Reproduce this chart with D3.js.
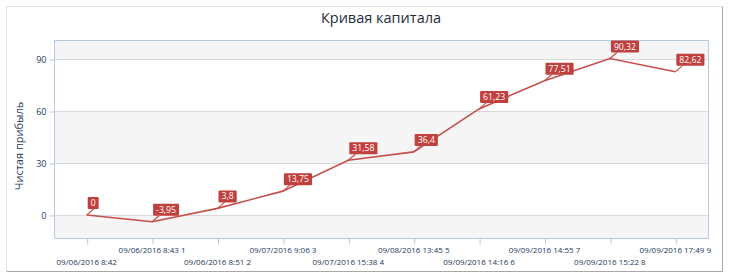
<!DOCTYPE html>
<html>
<head>
<meta charset="utf-8">
<script src="https://cdn.jsdelivr.net/npm/d3@7/dist/d3.min.js"></script>
<style>
  body { margin: 0; background: #fff; }
  svg { display: block; font-family: "Open Sans", sans-serif; }
</style>
</head>
<body>
<svg width="729" height="278"></svg>
<script>
const svg = d3.select("svg");

// данные
const dates = [
  "09/06/2016 8:42", "09/06/2016 8:43 1", "09/06/2016 8:51 2", "09/07/2016 9:06 3",
  "09/07/2016 15:38 4", "09/08/2016 13:45 5", "09/09/2016 14:16 6", "09/09/2016 14:55 7",
  "09/09/2016 15:22 8", "09/09/2016 17:49 9"
];
const profit = [0, -3.95, 3.8, 13.75, 31.58, 36.4, 61.23, 77.51, 90.32, 82.62];
const yTicks = [0, 30, 60, 90];
const bands = [[-13.3, 0], [30, 60], [90, 101]];

const plot = { left: 54, right: 708, top: 40, bottom: 238 };
const lineColor = "#c4504c";
const boxColor = "#c0403e";
const textColor = "#22385a";

// внешняя рамка
svg.append("rect").attr("x", 6.5).attr("y", 6.5).attr("width", 716).attr("height", 265)
  .attr("fill", "none").attr("stroke", "#e2e2e2");
svg.append("path").attr("d", "M722.5,6.5 V271.5 H6.5")
  .attr("fill", "none").attr("stroke", "#a8a8a8");

svg.append("text")
  .attr("x", 381).attr("y", 23)
  .attr("text-anchor", "middle")
  .attr("font-size", 14.5)
  .attr("fill", "#1f2d3d")
  .text("Кривая капитала");

const x = d3.scaleLinear().domain([-0.5, 9.5]).range([plot.left, plot.right]);
const y = d3.scaleLinear().domain([-13.3, 101]).range([plot.bottom, plot.top]);

const g = svg.append("g");

// полосы фона
g.selectAll(".band")
  .data(bands)
  .join("rect")
  .attr("x", plot.left).attr("width", plot.right - plot.left)
  .attr("y", d => y(d[1])).attr("height", d => y(d[0]) - y(d[1]))
  .attr("fill", "#f5f5f5");

// сетка
g.selectAll(".grid")
  .data(yTicks)
  .join("line")
  .attr("x1", plot.left).attr("x2", plot.right)
  .attr("y1", d => Math.round(y(d)) + 0.5).attr("y2", d => Math.round(y(d)) + 0.5)
  .attr("stroke", "#d9d9d9");

// рамка области графика
svg.append("path")
  .attr("d", `M${plot.left + 0.5},${plot.bottom + 0.5} V${plot.top + 0.5} H${plot.right + 0.5} V${plot.bottom + 0.5} H${plot.left + 0.5}`)
  .attr("fill", "none").attr("stroke", "#b7c9e2");

// ось Y
const yAxis = svg.append("g").attr("transform", `translate(${plot.left + 0.5},0.5)`);
yAxis.call(d3.axisLeft(y).tickValues(d3.range(-12, 101, 6)).tickSize(3).tickFormat(""));
yAxis.call(d3.axisLeft(y).tickValues(yTicks).tickSize(5).tickPadding(3));
yAxis.selectAll(".domain").remove();
yAxis.selectAll("line").attr("stroke", "#b7c9e2");
yAxis.selectAll("text").attr("font-size", 9).attr("fill", textColor)
  .attr("font-family", "Open Sans, sans-serif");

svg.append("text")
  .attr("transform", "translate(23,146) rotate(-90)")
  .attr("text-anchor", "middle")
  .attr("font-size", 11)
  .attr("fill", textColor)
  .text("Чистая прибыль");

// ось X
const xAxis = svg.append("g").attr("transform", `translate(0.5,${plot.bottom + 0.5})`);
xAxis.call(d3.axisBottom(x).tickValues(d3.range(-0.4, 9.5, 0.2).filter(v => Math.abs(v - Math.round(v)) > 0.01)).tickSize(3).tickFormat(""));
xAxis.call(d3.axisBottom(x).tickValues(d3.range(0, 10)).tickSize(6).tickFormat(""));
xAxis.selectAll(".domain").remove();
xAxis.selectAll("line").attr("stroke", "#b7c9e2");

svg.append("g").selectAll("text")
  .data(dates)
  .join("text")
  .attr("x", (d, i) => x(i))
  .attr("y", (d, i) => i % 2 ? 253 : 265)
  .attr("text-anchor", "middle")
  .attr("font-size", 8)
  .attr("fill", textColor)
  .text(d => d);

// линия
const line = d3.line().x((d, i) => x(i)).y(d => y(d));
svg.append("path")
  .datum(profit)
  .attr("d", line)
  .attr("fill", "none")
  .attr("stroke", lineColor)
  .attr("stroke-width", 1.6);

// подписи значений
const fmt = v => String(v).replace(".", ",");
const labels = svg.append("g").selectAll("g")
  .data(profit)
  .join("g")
  .attr("transform", (d, i) => `translate(${x(i)},${y(d)})`);

labels.append("line")
  .attr("x1", 0).attr("y1", 0).attr("x2", 7).attr("y2", -6)
  .attr("stroke", lineColor).attr("stroke-width", 1.2);

labels.each(function (d) {
  const sel = d3.select(this);
  const t = sel.append("text")
    .attr("x", 4).attr("y", -9)
    .attr("font-size", 8.7)
    .attr("fill", "#fff")
    .text(fmt(d));
  const w = t.node().getComputedTextLength();
  sel.insert("rect", "text")
    .attr("x", 1).attr("y", -18)
    .attr("width", w + 6).attr("height", 12)
    .attr("rx", 1)
    .attr("fill", boxColor);
});
</script>
</body>
</html>
